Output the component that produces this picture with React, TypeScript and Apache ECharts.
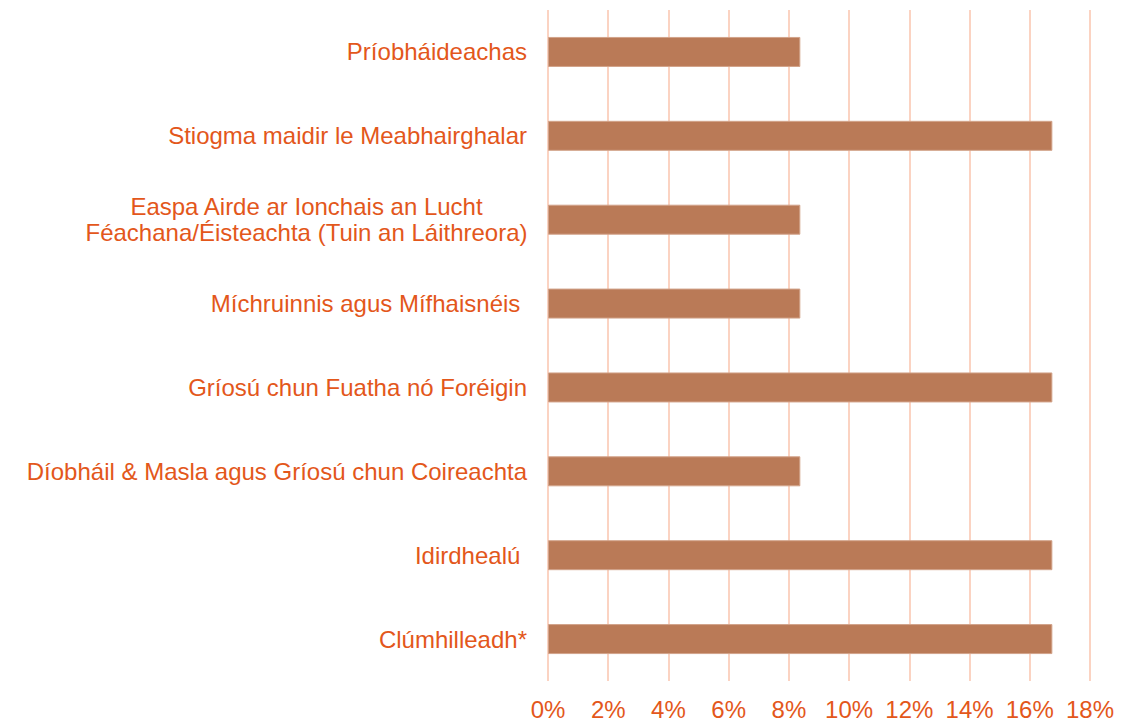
import React, { useEffect, useRef } from "react";
import * as echarts from "echarts";

const categories = [
  "Príobháideachas",
  "Stiogma maidir le Meabhairghalar",
  "Easpa Airde ar Ionchais an Lucht\nFéachana/Éisteachta (Tuin an Láithreora)",
  "Míchruinnis agus Mífhaisnéis ",
  "Gríosú chun Fuatha nó Foréigin",
  "Díobháil & Masla agus Gríosú chun Coireachta",
  "Idirdhealú ",
  "Clúmhilleadh*",
];
const values = [8.38, 16.75, 8.38, 8.38, 16.75, 8.38, 16.75, 16.75];
const xTicks = [0, 2, 4, 6, 8, 10, 12, 14, 16, 18];

const TEXT = "#E3571B";
const FONT = "'Liberation Sans', Arial, sans-serif";

export default function App() {
  const ref = useRef<HTMLDivElement>(null);
  useEffect(() => {
    if (!ref.current) return;
    const chart = echarts.init(ref.current, undefined, { renderer: "svg" });
    chart.setOption({
      animation: false,
      backgroundColor: "#ffffff",
      grid: { left: 548, right: 48, top: 10, bottom: 39, containLabel: false },
      xAxis: {
        type: "value",
        min: xTicks[0],
        max: xTicks[xTicks.length - 1],
        interval: 2,
        axisLine: { show: false },
        axisTick: { show: false },
        splitLine: { show: true, lineStyle: { color: "#FBD3C2", width: 2 } },
        axisLabel: {
          formatter: (v: number) => v + "%",
          color: TEXT,
          fontSize: 24,
          fontFamily: FONT,
          margin: 16,
        },
      },
      yAxis: {
        type: "category",
        inverse: true,
        data: categories,
        axisLine: { show: false },
        axisTick: { show: false },
        splitLine: { show: false },
        axisLabel: {
          color: TEXT,
          fontSize: 24,
          fontFamily: FONT,
          margin: 21,
          formatter: (v: string) => {
            if (v.indexOf("\n") >= 0) {
              return v
                .split("\n")
                .map((l) => "{c|" + l + "}")
                .join("\n");
            }
            return v;
          },
          rich: {
            c: {
              width: 441,
              align: "center",
              color: TEXT,
              fontSize: 24,
              fontFamily: FONT,
              lineHeight: 26,
            },
          },
        },
      },
      series: [
        {
          type: "bar",
          data: values,
          barWidth: 30,
          itemStyle: { color: "#BA7A57", borderColor: "#D2A38A", borderWidth: 1 },
        },
      ],
    });
    return () => chart.dispose();
  }, []);
  return <div ref={ref} style={{ width: 1138, height: 721, position: "absolute", left: 0, top: 0 }} />;
}
